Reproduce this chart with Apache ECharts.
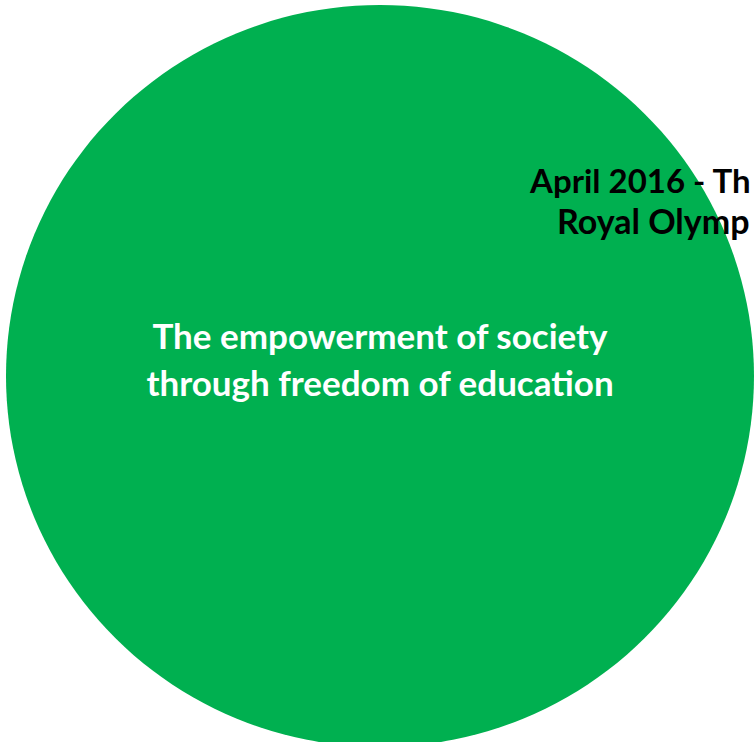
<!DOCTYPE html>
<html>
<head>
<meta charset="utf-8">
<script src="https://cdn.jsdelivr.net/npm/echarts@6/dist/echarts.min.js"></script>
<style>
html,body{margin:0;padding:0;background:#fff;}
#main{width:755px;height:742px;}
</style>
</head>
<body>
<div id="main"></div>
<script>
// data
var circleNames = ['The empowerment of society\nthrough freedom of education'];
var circleValues = [[0, 0]];
var outerLines = ['April 2016 - Th', 'Royal Olymp'];

var chart = echarts.init(document.getElementById('main'), null, {renderer: 'svg'});
var font = 'Lato, "Open Sans", sans-serif';
chart.setOption({
  animation: false,
  backgroundColor: '#ffffff',
  grid: {left: 0, top: 0, right: 0, bottom: 0, outerBoundsMode: 'none'},
  xAxis: {type: 'value', min: -380, max: 375, show: false},
  yAxis: {type: 'value', min: -366, max: 376, show: false},
  series: [{
    type: 'scatter',
    symbol: 'circle',
    symbolSize: [748, 742],
    z: 2,
    itemStyle: {color: '#00B050', opacity: 1},
    data: circleValues.map(function (v, i) { return {name: circleNames[i], value: v}; }),
    label: {
      show: true,
      position: 'inside',
      offset: [0, -18],
      formatter: '{b}',
      color: '#ffffff',
      fontFamily: font,
      fontWeight: 'bold',
      fontSize: 35,
      lineHeight: 47,
      align: 'center'
    },
    emphasis: {disabled: true}
  }],
  graphic: [
    {type: 'text', left: 530, top: 163, silent: true, z: 100,
     style: {text: outerLines[0], fill: '#000', font: 'bold 33px ' + font}},
    {type: 'text', left: 557, top: 203, silent: true, z: 100,
     style: {text: outerLines[1], fill: '#000', font: 'bold 34px ' + font}}
  ]
});
</script>
</body>
</html>
